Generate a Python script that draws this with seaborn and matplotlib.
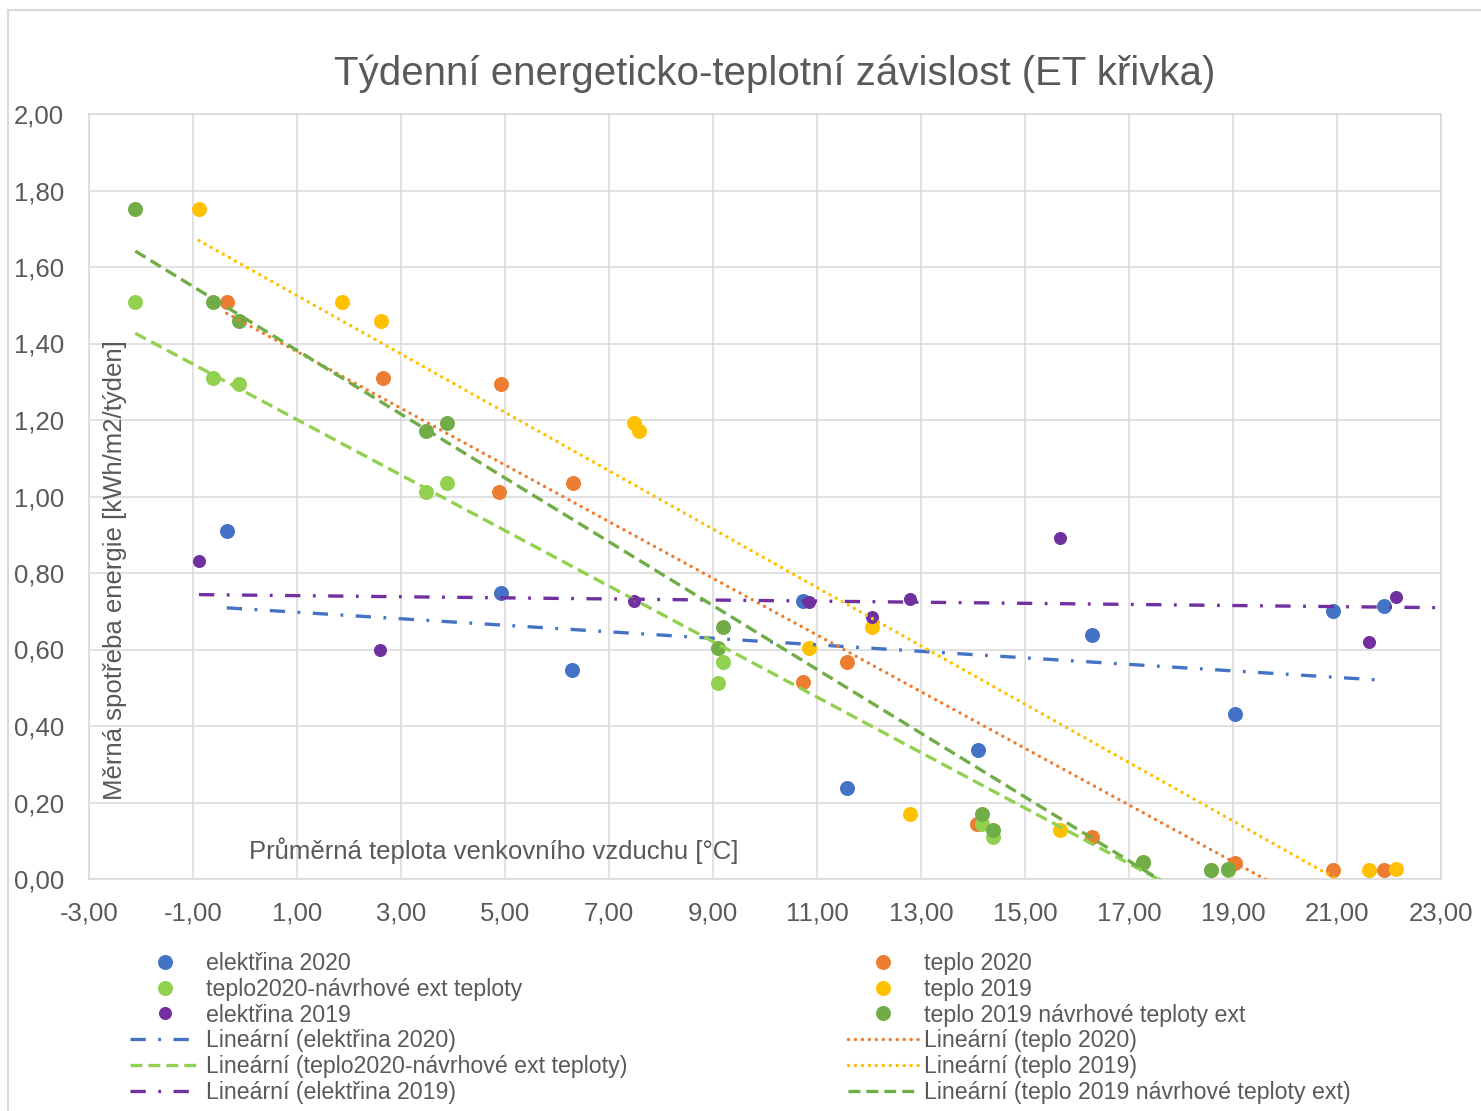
import matplotlib
matplotlib.use("Agg")
import matplotlib.pyplot as plt
import seaborn as sns
import numpy as np
from matplotlib.lines import Line2D
from matplotlib.patches import Rectangle
from matplotlib.ticker import FuncFormatter

# ---------------- data ----------------
# 2020 weeks: mean outdoor temperature [°C]
el2020_x = [-0.35, 4.92, 6.29, 10.74, 11.57, 14.10, 16.28, 19.04, 20.93, 21.91]
el2020_y = [0.909, 0.749, 0.547, 0.728, 0.238, 0.336, 0.639, 0.431, 0.701, 0.713]

teplo2020_x = [-0.35, 2.65, 4.93, 4.88, 6.30, 10.74, 11.57, 14.07, 16.28, 19.04, 20.93, 21.91]
teplo2020_y = [1.508, 1.311, 1.294, 1.012, 1.036, 0.514, 0.567, 0.145, 0.110, 0.042, 0.023, 0.023]

# design external temperatures
navrh_x = [-2.11, -0.615, -0.115, 3.487, 3.885, 9.09, 9.19, 14.18, 14.39, 17.27, 18.58, 18.90]
teplo2020_navrh_y = [1.508, 1.311, 1.294, 1.012, 1.036, 0.513, 0.567, 0.145, 0.110, 0.042, 0.023, 0.023]

# 2019 weeks (last week lies beyond the 23 °C axis limit, inferred from the trendlines)
teplo2019_x = [-0.885, 1.872, 2.61, 7.487, 7.57, 10.846, 12.06, 12.79, 15.67, 21.62, 22.13, 23.6]
teplo2019_y = [1.752, 1.508, 1.458, 1.192, 1.172, 0.604, 0.659, 0.171, 0.127, 0.024, 0.026, 0.044]

el2019_x = [-0.885, 2.60, 7.49, 10.85, 12.06, 12.79, 15.67, 21.62, 22.13, 23.6]
el2019_y = [0.832, 0.599, 0.728, 0.724, 0.685, 0.733, 0.891, 0.620, 0.737, 0.690]

teplo2019_navrh_y = [1.752, 1.508, 1.458, 1.170, 1.191, 0.604, 0.659, 0.171, 0.127, 0.044, 0.024, 0.026]

series_names = ["elektřina 2020", "teplo 2020", "teplo2020-návrhové ext teploty",
                "teplo 2019", "elektřina 2019", "teplo 2019 návrhové teploty ext"]

x_ticks = list(range(-3, 24, 2))
y_ticks = [i / 5 for i in range(11)]

title = "Týdenní energeticko-teplotní závislost (ET křivka)"
xlabel = "Průměrná teplota venkovního vzduchu [°C]"
ylabel = "Měrná spotřeba energie [kWh/m2/týden]"

# ---------------- styling ----------------
sns.set_theme(style="white")
plt.rcParams["font.family"] = ["Liberation Sans", "DejaVu Sans"]
plt.rcParams["lines.scale_dashes"] = False

TXT = "#595959"
GRID = "#d9d9d9"

C_BLUE = "#4472C4"
C_ORANGE = "#ED7D31"
C_LGREEN = "#92D050"
C_YELLOW = "#FFC000"
C_PURPLE = "#7030A0"
C_DGREEN = "#70AD47"

dashdot = (0, (11, 9, 2, 9))
dotted = (0, (0.01, 5.0))
dashed = (0, (8.6, 4.3))

series = [
    (series_names[0], el2020_x, el2020_y, C_BLUE, 10.8, dashdot, 2.4, "butt"),
    (series_names[1], teplo2020_x, teplo2020_y, C_ORANGE, 10.8, dotted, 2.5, "round"),
    (series_names[2], navrh_x, teplo2020_navrh_y, C_LGREEN, 10.8, dashed, 2.4, "butt"),
    (series_names[3], teplo2019_x, teplo2019_y, C_YELLOW, 10.8, dotted, 2.5, "round"),
    (series_names[4], el2019_x, el2019_y, C_PURPLE, 9.4, dashdot, 2.4, "butt"),
    (series_names[5], navrh_x, teplo2019_navrh_y, C_DGREEN, 10.8, dashed, 2.4, "butt"),
]

W, H = 1481, 1111
fig = plt.figure(figsize=(W / 100, H / 100), dpi=100)
ax = fig.add_axes([89 / W, 1 - 879 / H, (1441 - 89) / W, (879 - 114) / H])

marker_handles = {}
line_handles = {}
for name, xs, ys, col, ms, ls, lw, cap in series:
    sns.scatterplot(x=xs, y=ys, color=col, s=ms ** 2, linewidth=0, ax=ax,
                    zorder=3, legend=False)
    marker_handles[name] = Line2D([], [], ls="", marker="o", ms=ms, color=col,
                                  markeredgewidth=0)
for name, xs, ys, col, ms, ls, lw, cap in series:
    k, q = np.polyfit(xs, ys, 1)
    xr = np.array([min(xs), max(xs)])
    ax.plot(xr, k * xr + q, color=col, lw=lw, ls=ls, dash_capstyle=cap,
            solid_capstyle=cap, zorder=4)
    line_handles[name] = Line2D([], [], color=col, lw=lw, ls=ls,
                                dash_capstyle=cap)

ax.set_xlim(-3, 23)
ax.set_ylim(0, 2)
ax.set_xticks(x_ticks)
ax.set_yticks(y_ticks)
fmt = FuncFormatter(lambda v, _: f"{v:.2f}".replace(".", ","))
ax.xaxis.set_major_formatter(fmt)
ax.yaxis.set_major_formatter(fmt)
ax.tick_params(axis="both", length=0, labelsize=18.5, labelcolor=TXT)
ax.tick_params(axis="y", pad=18)
ax.tick_params(axis="x", pad=16)
ax.grid(True, color=GRID, lw=1.1)
ax.set_axisbelow(True)
for sp in ax.spines.values():
    sp.set_color(GRID)
    sp.set_linewidth(1.1)

ax.set_xlabel(xlabel, fontsize=18.5, color=TXT)
ax.xaxis.label.set_va("center")
ax.xaxis.set_label_coords((493.5 - 89) / 1352, (879 - 851) / 765)
ax.set_ylabel(ylabel, fontsize=18.5, color=TXT)
ax.yaxis.label.set_va("center")
ax.yaxis.set_label_coords((115 - 89) / 1352, (879 - 570) / 765)

fig.suptitle(title, x=775 / W, y=1 - 74 / H, va="center", fontsize=29, color=TXT)

left_names = [series_names[0], series_names[2], series_names[4]]
right_names = [series_names[1], series_names[3], series_names[5]]

def make_legend(names, x0):
    handles = [marker_handles[n] for n in names] + [line_handles[n] for n in names]
    labels = list(names) + [f"Lineární ({n})" for n in names]
    leg = fig.legend(handles, labels, loc="upper left",
                     bbox_to_anchor=(x0 / W, 1 - 952 / H), frameon=False,
                     fontsize=16.7, handlelength=3.0, handletextpad=0.27,
                     labelspacing=0.12, borderpad=0, borderaxespad=0)
    for t in leg.get_texts():
        t.set_color(TXT)
    return leg

make_legend(left_names, 130)
make_legend(right_names, 848)

fig.patches.append(Rectangle((7.5 / W, -0.05), 1.2, 1 - 10 / H + 0.05,
                             transform=fig.transFigure, fill=False,
                             edgecolor=GRID, lw=1.5))

fig.savefig("out.png", dpi=100)
